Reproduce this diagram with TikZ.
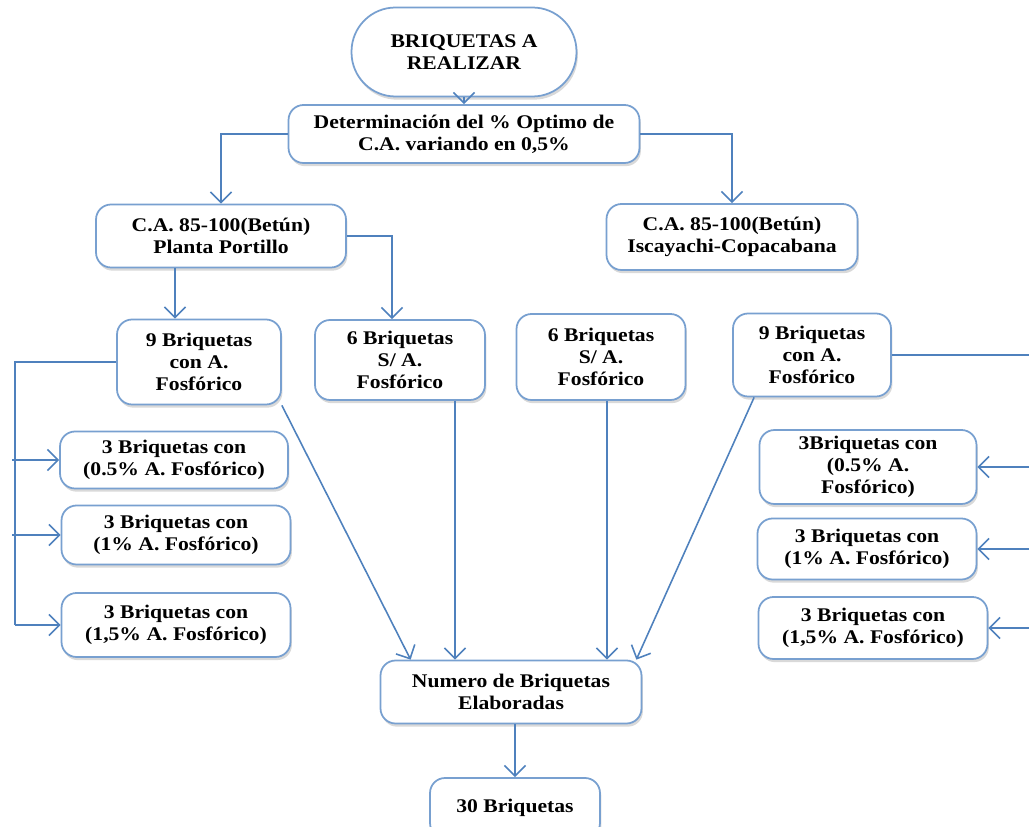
\documentclass[tikz,border=0pt]{standalone}
\usepackage{fontspec}
\setmainfont{Liberation Serif}[FakeStretch=1.12]
\usepackage{tikz}
\usetikzlibrary{arrows.meta,shadows}
\definecolor{linea}{RGB}{79,129,189}
\definecolor{borde}{RGB}{120,160,208}
\tikzstyle{arrow}     = [linea,line width=0.9pt,-{Straight Barb[length=6pt,width=12pt,line width=0.9pt]}]
\tikzstyle{line}      = [linea,line width=0.9pt]
\tikzstyle{caja}      = [draw=borde,line width=1pt,fill=white,rounded corners=0.3cm,align=center,inner sep=2pt,
                         font=\fontsize{11}{12.5}\selectfont\bfseries,
                         drop shadow={opacity=0.3,shadow xshift=0.8pt,shadow yshift=-1.8pt}]

\begin{document}
\begin{tikzpicture}[x=0.02cm,y=-0.02cm]
          \useasboundingbox (0,0) rectangle (1029,827);
          \node[caja,rounded corners=0.88cm,minimum width=4.5cm,minimum height=1.78cm](ini)at(464, 52){BRIQUETAS A\\REALIZAR};
          \node[caja,minimum width=7.02cm,minimum height=1.16cm](det)at(464, 134){Determinación del \% Optimo de\\C.A. variando en 0,5\%};
          \node[caja,minimum width=5cm,minimum height=1.26cm](pp)at(221, 236){C.A. 85-100(Betún)\\Planta Portillo};
          \node[caja,minimum width=5.02cm,minimum height=1.32cm](isc)at(732, 237){C.A. 85-100(Betún)\\Iscayachi-Copacabana};
          \node[caja,minimum width=3.28cm,minimum height=1.7cm](nuevei)at(199, 362){9 Briquetas\\con A.\\Fosfórico};
          \node[caja,minimum width=3.4cm,minimum height=1.6cm](seisi)at(400, 360){6 Briquetas\\S/ A.\\Fosfórico};
          \node[caja,minimum width=3.38cm,minimum height=1.72cm](seisd)at(601, 357){6 Briquetas\\S/ A.\\Fosfórico};
          \node[caja,minimum width=3.16cm,minimum height=1.66cm](nueved)at(812, 355){9 Briquetas\\con A.\\Fosfórico};
          \node[caja,minimum width=4.56cm,minimum height=1.14cm](ia)at(174, 460){3 Briquetas con\\(0.5\% A. Fosfórico)};
          \node[caja,minimum width=4.58cm,minimum height=1.18cm](ib)at(176, 535){3 Briquetas con\\(1\% A. Fosfórico)};
          \node[caja,minimum width=4.58cm,minimum height=1.28cm](ic)at(176, 625){3 Briquetas con\\(1,5\% A. Fosfórico)};
          \node[caja,minimum width=4.34cm,minimum height=1.48cm](da)at(868, 467){3Briquetas con\\(0.5\% A.\\Fosfórico)};
          \node[caja,minimum width=4.38cm,minimum height=1.22cm](db)at(867, 549){3 Briquetas con\\(1\% A. Fosfórico)};
          \node[caja,minimum width=4.58cm,minimum height=1.24cm](dc)at(873, 628){3 Briquetas con\\(1,5\% A. Fosfórico)};
          \node[caja,minimum width=5.22cm,minimum height=1.26cm](num)at(511, 692){Numero de Briquetas\\Elaboradas};
          \node[caja,minimum width=3.4cm,minimum height=1.2cm](total)at(515, 808){30 Briquetas};
          \coordinate(bizq)at(15, 0);
          \coordinate(bder)at(1040, 0);
          \coordinate(ppd)at([xshift=-0.92cm]pp.south);
          \draw[arrow](ini)--(det);
          \draw[arrow](det.west)-|(pp.north);
          \draw[arrow](det.east)-|(isc.north);
          \draw[arrow](ppd)--(ppd |- nuevei.north);
          \draw[arrow](pp.east)-|([xshift=-0.16cm]seisi.north);
          \draw[line](nuevei.west)--(nuevei.west -| bizq)--(ic.west -| bizq);
          \draw[arrow]([xshift=-0.06cm]ia.west -| bizq)--(ia.west);
          \draw[arrow]([xshift=-0.06cm]ib.west -| bizq)--(ib.west);
          \draw[arrow](ic.west -| bizq)--(ic.west);
          \draw[line](nueved.east)--(nueved.east -| bder)--(dc.east -| bder);
          \draw[arrow](da.east -| bder)--(da.east);
          \draw[arrow](db.east -| bder)--(db.east);
          \draw[arrow](dc.east -| bder)--(dc.east);
          \draw[arrow](nuevei.south east)--([xshift=0.62cm]num.north west);
          \draw[arrow]([xshift=1.1cm]seisi.south)--([xshift=1.1cm]seisi.south |- num.north);
          \draw[arrow]([xshift=0.12cm]seisd.south)--([xshift=0.12cm]seisd.south |- num.north);
          \draw[arrow]([xshift=0.44cm]nueved.south west)--([xshift=-0.12cm]num.north east);
          \draw[arrow](num.south -| total.north)--(total.north);
      \end{tikzpicture}
\end{document}
